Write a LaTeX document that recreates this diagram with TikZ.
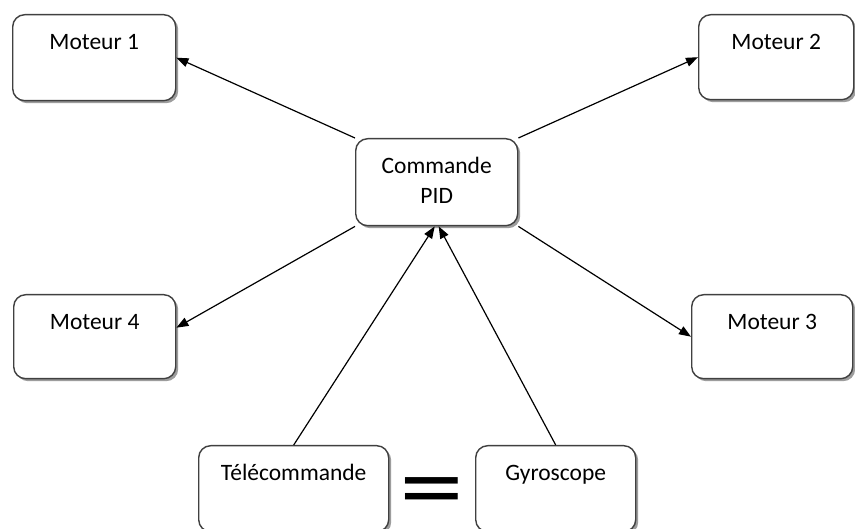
\documentclass[tikz,border=0pt]{standalone}
\usepackage{fontspec}
\setmainfont{Carlito}
\usetikzlibrary{arrows.meta,shadows}
\begin{document}
\begin{tikzpicture}[x=1pt,y=-1pt,
  blk/.style={draw=black!75, line width=1.4pt, rounded corners=12pt, fill=white,
    drop shadow={shadow xshift=2.5pt,shadow yshift=-2.5pt,opacity=0.55,fill=black!70},
    inner sep=0pt, anchor=north west, font=\fontsize{23.5}{30}\selectfont,
    text height=35pt},
  link/.style={line width=1.2pt, -{Triangle[length=12pt,width=9pt]}}
]
\useasboundingbox (0,0) rectangle (855,529);

% motors
\node[blk, minimum width=163pt, text depth=51pt] (m1) at (12,14) {Moteur 1};
\node[blk, minimum width=155pt, text depth=50pt] (m2) at (698,14) {Moteur 2};
\node[blk, minimum width=161pt, text depth=49pt] (m3) at (691,294) {Moteur 3};
\node[blk, minimum width=162pt, text depth=49pt] (m4) at (13,294) {Moteur 4};

% controller (two lines: reference point is the last baseline)
\node[blk, minimum width=162pt, text height=65pt, text depth=22pt, align=center] (pid) at (355,138) {Commande\\PID};

% inputs
\node[blk, minimum width=190pt, text depth=51pt] (tel) at (198,445) {Télécommande};
\node[blk, minimum width=160pt, text depth=51pt] (gyr) at (475,445) {Gyroscope};
\node[font=\fontsize{100}{100}\selectfont, inner sep=0pt, text height=46pt, text depth=0pt, anchor=base] (eq) at (432,520) {\scalebox{1.3}[1]{=}};

% connections
\draw[link] (pid.north west) -- (m1.east);
\draw[link] (pid.north east) -- (m2.west);
\draw[link] (pid.south east) -- (m3.west);
\draw[link] (pid.south west) -- ([yshift=9pt]m4.east);
\draw[link] (tel.north) -- ([xshift=-2pt]pid.south);
\draw[link] (gyr.north) -- ([xshift=2pt]pid.south);
\end{tikzpicture}
\end{document}
